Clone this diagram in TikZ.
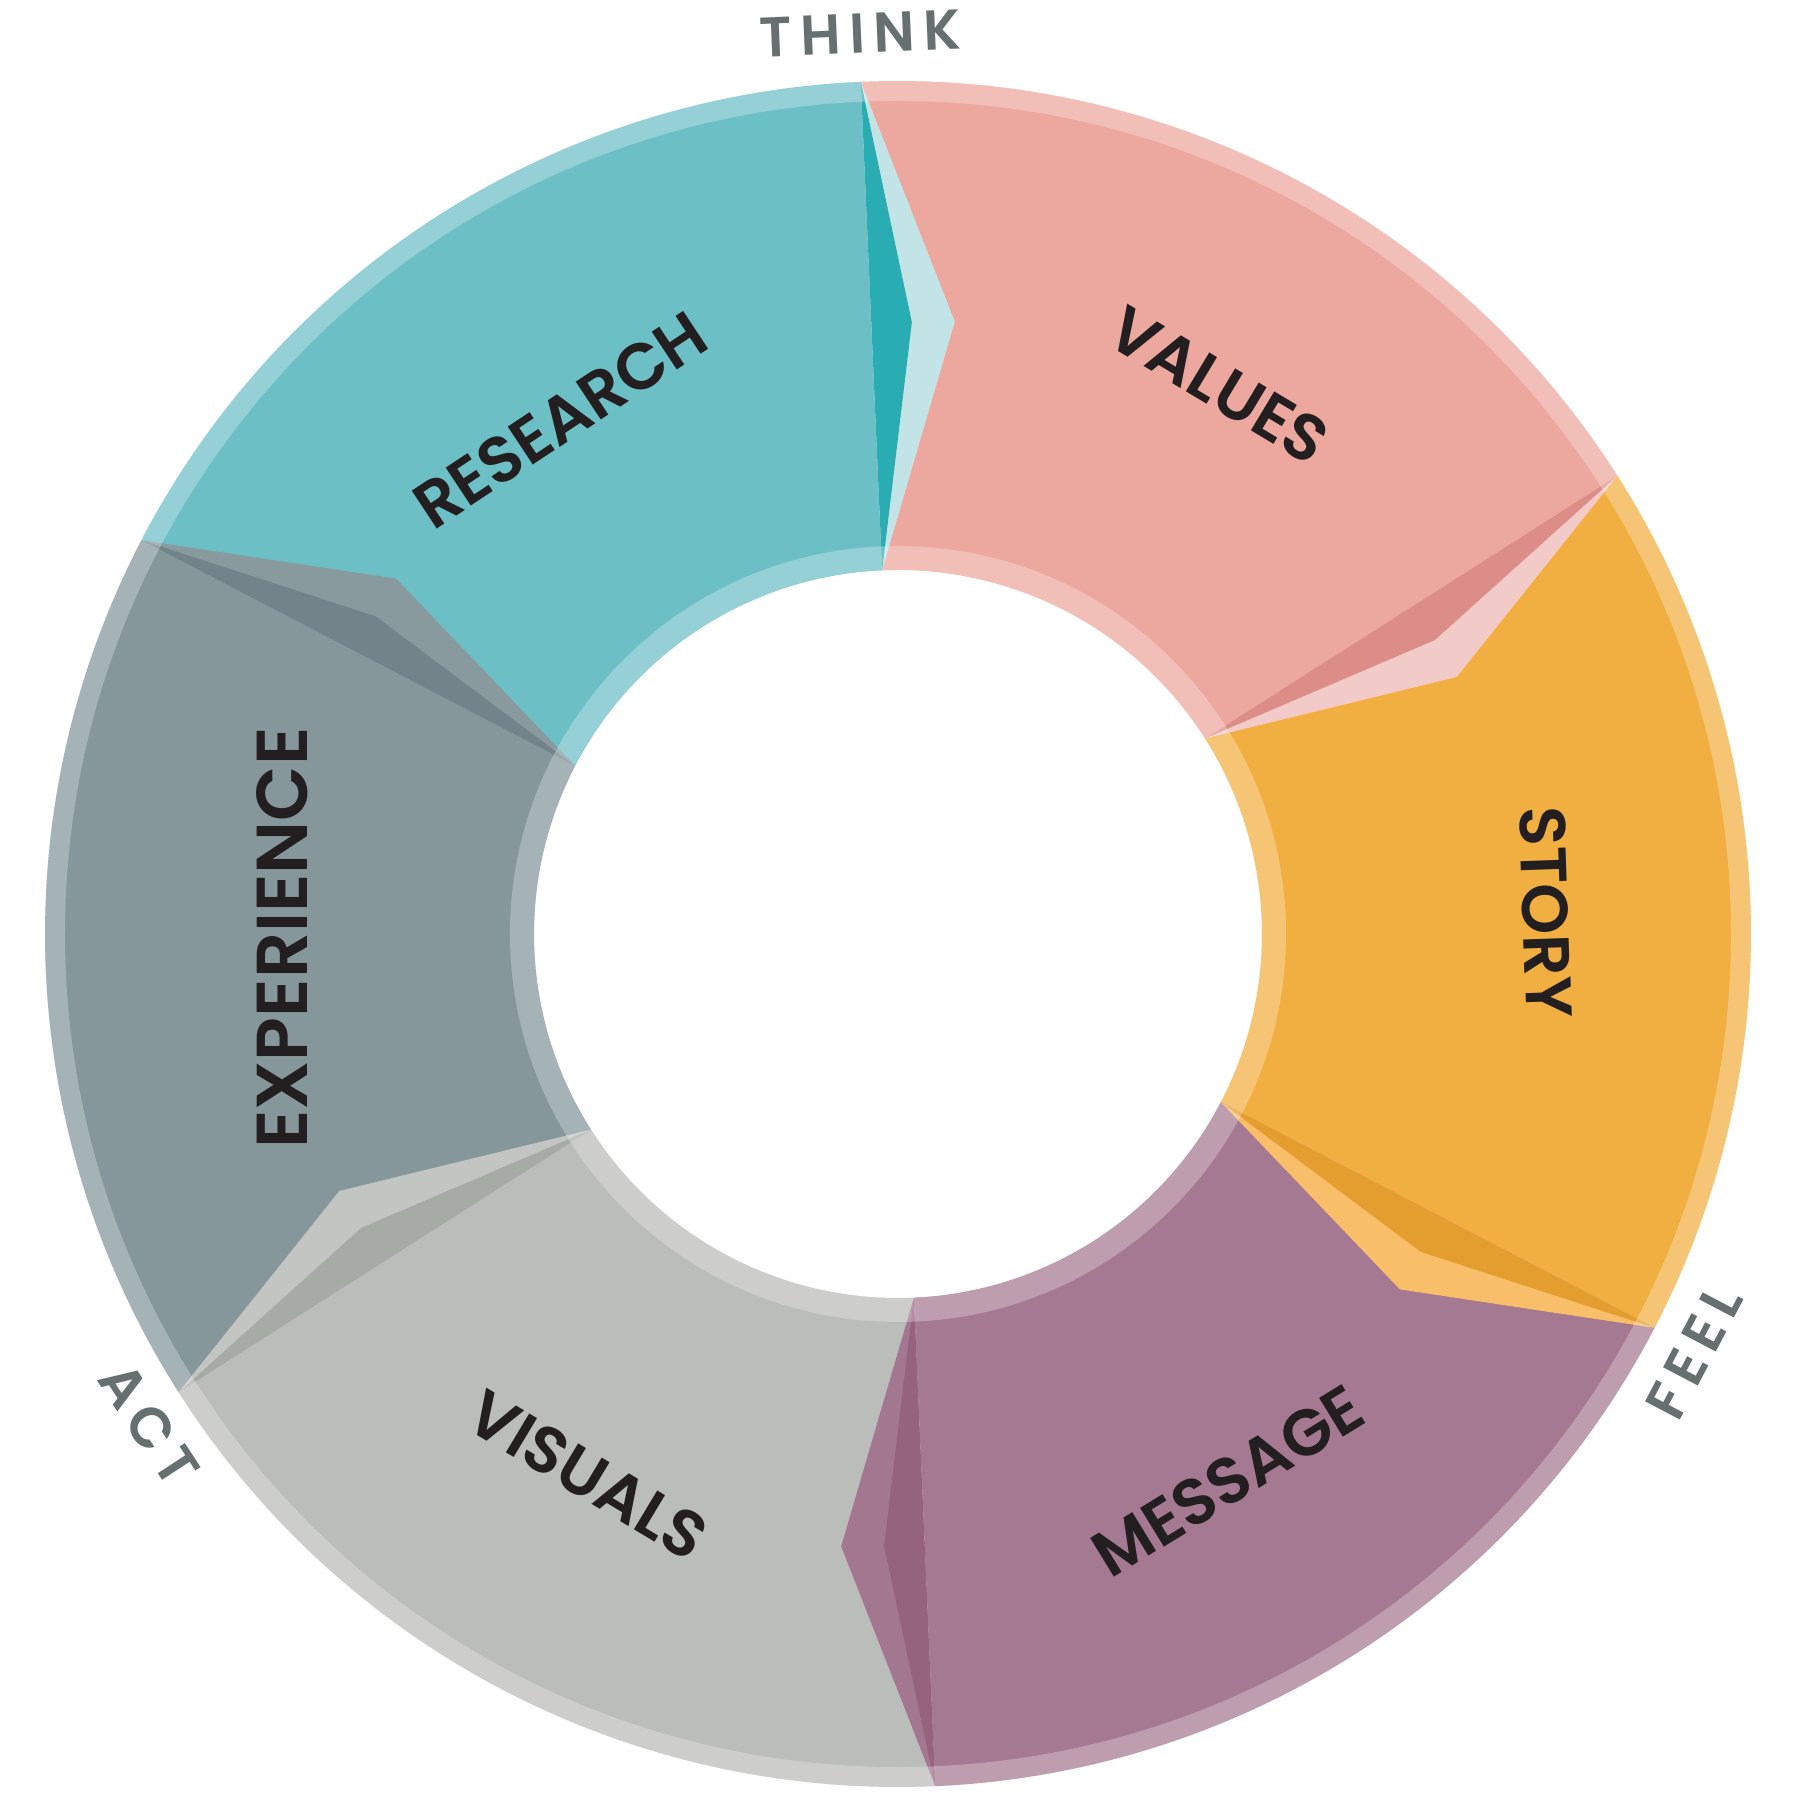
\documentclass[tikz,border=0pt]{standalone}
\usepackage{fontspec}
\setmainfont{Poppins}
\newfontfamily\ringfont{Poppins SemiBold}
\newcommand\labelfont{\ringfont\fontsize{18.5pt}{18.5pt}\selectfont}
\newcommand\markfont{\ringfont\fontsize{16pt}{16pt}\selectfont}
\newcommand\trk{\kern2.4pt}
\definecolor{values}{HTML}{ECA89E}
\definecolor{valuesdark}{HTML}{DC8D87}
\definecolor{valuespale}{HTML}{F2CBC8}
\definecolor{story}{HTML}{F2AF41}
\definecolor{storydark}{HTML}{E49D2F}
\definecolor{storypale}{HTML}{F8BE69}
\definecolor{message}{HTML}{A57991}
\definecolor{messagedark}{HTML}{96637F}
\definecolor{messagepale}{HTML}{A47790}
\definecolor{visuals}{HTML}{BBBDBA}
\definecolor{visualsdark}{HTML}{A7ABA6}
\definecolor{visualspale}{HTML}{C3C5C2}
\definecolor{experience}{HTML}{86979B}
\definecolor{experiencedark}{HTML}{72838A}
\definecolor{experiencepale}{HTML}{899A9E}
\definecolor{research}{HTML}{6DBFC6}
\definecolor{researchdark}{HTML}{2AADB2}
\definecolor{researchpale}{HTML}{C3E4E7}
\definecolor{ink}{HTML}{231F20}
\definecolor{markgrey}{HTML}{66706F}
\tikzset{
  seglabel/.style={font=\labelfont,text=ink,inner sep=0pt},
  marklabel/.style={font=\markfont,text=markgrey,inner sep=0pt},
  band/.style={fill=white,fill opacity=0.27,even odd rule}
}

\begin{document}
\begin{tikzpicture}[x=0.01cm,y=0.01cm]
  \useasboundingbox (-898,-866) rectangle (902,934);
  \coordinate (hub) at (0,0);
  % six segments, clockwise from THINK
  \foreach \a/\seg in {92.5/values,32.5/story,-27.5/message,-87.5/visuals,-147.5/experience,152.5/research}
    \fill[\seg] (\a:853) arc[start angle=\a,end angle=\a-60,radius=853]
      -- (\a-60:364) arc[start angle=\a-60,end angle=\a,radius=364] -- cycle;
  % chevron tips pushed into the next segment
  \foreach \b/\tipdark/\tippale in {32.5/valuesdark/valuespale,-27.5/storydark/storypale,
      -87.5/messagedark/messagepale,-147.5/visualsdark/visualspale,
      152.5/experiencedark/experiencepale,92.5/researchdark/researchpale}
  {
    \fill[\tippale] (\b:853) -- (\b-7.8:615) -- (\b:364) -- cycle;
    \fill[\tipdark] (\b:853) -- (\b-3.8:612) -- (\b:364) -- cycle;
  }
  % light rims
  \fill[band] (hub) circle[radius=853] circle[radius=833];
  \fill[band] (hub) circle[radius=388] circle[radius=364];
  % segment labels
  \node[seglabel,rotate=33.5] (research) at (123.3:615) {RESEARCH};
  \node[seglabel,rotate=-31] (values) at (59.7:636) {VALUES};
  \node[seglabel,rotate=-88] (story) at (1.9:648) {STORY};
  \node[seglabel,rotate=31.5] (message) at (-58.9:639) {MESSAGE};
  \node[seglabel,rotate=-31] (visuals) at (-119.8:624) {VISUALS};
  \node[seglabel,font=\ringfont\fontsize{20.5pt}{20.5pt}\selectfont,rotate=90] (experience)
    at (180.4:616) {EXPERIENCE};
  % outer marks
  \node[marklabel,rotate=2.4] (think) at (92.4:901) {T\trk H\trk I\trk N\trk K};
  \node[marklabel,rotate=62.3] (feel) at (-27.7:899) {F\trk E\trk E\trk L};
  \node[marklabel,rotate=-56.8] (act) at (-146.8:895) {A\trk C\trk T};
\end{tikzpicture}
\end{document}
